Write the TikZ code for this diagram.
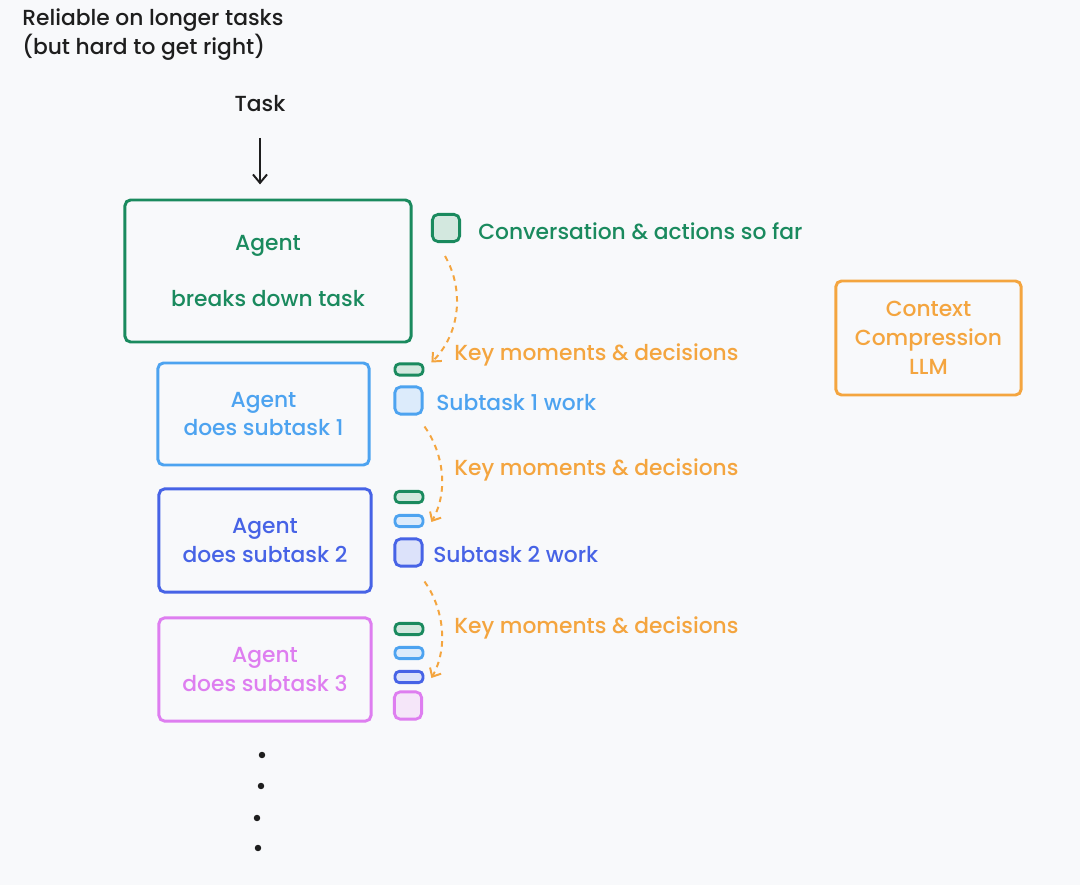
\documentclass[tikz,border=0pt]{standalone}
\usepackage{fontspec}
\setmainfont{Poppins}[UprightFont=* Medium]
\usetikzlibrary{arrows.meta,positioning}
\definecolor{bgc}{HTML}{F8F9FB}
\definecolor{inkc}{HTML}{1E1E1E}
\definecolor{greenc}{HTML}{1A8A5E}
\definecolor{greenf}{HTML}{D3E8DF}
\definecolor{bluec}{HTML}{4DA3F0}
\definecolor{bluef}{HTML}{DCEBFB}
\definecolor{indigoc}{HTML}{4763E6}
\definecolor{indigof}{HTML}{DCE2FA}
\definecolor{pinkc}{HTML}{DE7EF0}
\definecolor{pinkf}{HTML}{F5E6F9}
\definecolor{orangec}{HTML}{F4A53F}
\tikzset{
  every node/.style={font=\fontsize{15.5}{20.6}\selectfont, inner sep=0pt},
  agentbox/.style={draw=#1, text=#1, line width=2.1pt, rounded corners=4pt, align=center},
  chip/.style={draw=#1, line width=2pt, rounded corners=3pt, minimum width=0.7cm, minimum height=0.28cm},
  sq/.style={draw=#1, line width=2pt, rounded corners=4pt, minimum size=0.68cm},
  keyarrow/.style={draw=orangec, line width=1.4pt, dash pattern=on 4pt off 3.5pt, -{Straight Barb[length=5pt,width=9pt]}},
}
\begin{document}
\begin{tikzpicture}[x=0.025cm, y=-0.025cm]
  \fill[bgc] (0,0) rectangle (1080,885);
  \useasboundingbox (0,0) rectangle (1080,885);

  \node[anchor=west, align=left, text=inkc] (title) at (22,35) {Reliable on longer tasks\\(but hard to get right)};
  \node[text=inkc] (task) at (260,104) {Task};

  % main agent
  \node[agentbox=greenc, minimum width=7.15cm, minimum height=3.55cm] (a0) at (268,271) {Agent\\[19pt]breaks down task};
  \node[sq=greenc, fill=greenf] (c0) at (446,228) {};
  \node[anchor=west, text=greenc] (c0t) at (478,231) {Conversation \& actions so far};

  \node[agentbox=orangec, minimum width=4.63cm, minimum height=2.85cm] (llm) at (928.5,338) {Context\\Compression\\LLM};

  % subtask 1
  \node[agentbox=bluec, minimum width=5.28cm, minimum height=2.55cm] (a1) at (263.5,414) {Agent\\does subtask 1};
  \node[chip=greenc, fill=greenf] (k1) at (409,369.5) {};
  \node[sq=bluec, fill=bluef] (s1) at (408.5,400.5) {};
  \node[anchor=west, text=orangec] (k1t) at (454,355) {Key moments \& decisions};
  \node[anchor=west, text=bluec] (s1t) at (436,403) {Subtask 1 work};

  % subtask 2
  \node[agentbox=indigoc, minimum width=5.3cm, minimum height=2.58cm] (a2) at (265,540.5) {Agent\\does subtask 2};
  \node[chip=greenc, fill=greenf] (k2a) at (409,497) {};
  \node[chip=bluec, fill=bluef] (k2b) at (409,521) {};
  \node[sq=indigoc, fill=indigof] (s2) at (408.5,552.5) {};
  \node[anchor=west, text=orangec] (k2t) at (454,470) {Key moments \& decisions};
  \node[anchor=west, text=indigoc] (s2t) at (433,554) {Subtask 2 work};

  % subtask 3
  \node[agentbox=pinkc, minimum width=5.3cm, minimum height=2.58cm] (a3) at (265,669.5) {Agent\\does subtask 3};
  \node[chip=greenc, fill=greenf] (k3a) at (409,629) {};
  \node[chip=bluec, fill=bluef] (k3b) at (409,653) {};
  \node[chip=indigoc, fill=indigof] (k3c) at (409,677) {};
  \node[sq=pinkc, fill=pinkf] (s3) at (408,705.5) {};
  \node[anchor=west, text=orangec] (k3t) at (454,628) {Key moments \& decisions};

  \draw[inkc, line width=1.4pt, -{Straight Barb[length=6pt,width=10pt]}, shorten <=18pt, shorten >=10pt]
    (task.south) -- (task.south |- a0.north);

  \draw[keyarrow] ([shift={(-1,13)}]c0.south) .. controls +(20,35) and +(28,-28) .. ([shift={(7,-7)}]k1.east);
  \draw[keyarrow] ([shift={(1,11)}]s1.south east) .. controls +(18,25) and +(18,-32) .. ([shift={(7,1)}]k2b.east);
  \draw[keyarrow] ([shift={(1,14)}]s2.south east) .. controls +(18,25) and +(18,-32) .. ([shift={(7,1)}]k3c.east);

  \foreach \px/\py in {262/755, 261/786, 257/818, 258/848}
    \fill[inkc] (\px,\py) circle[radius=2.3pt];
\end{tikzpicture}
\end{document}
